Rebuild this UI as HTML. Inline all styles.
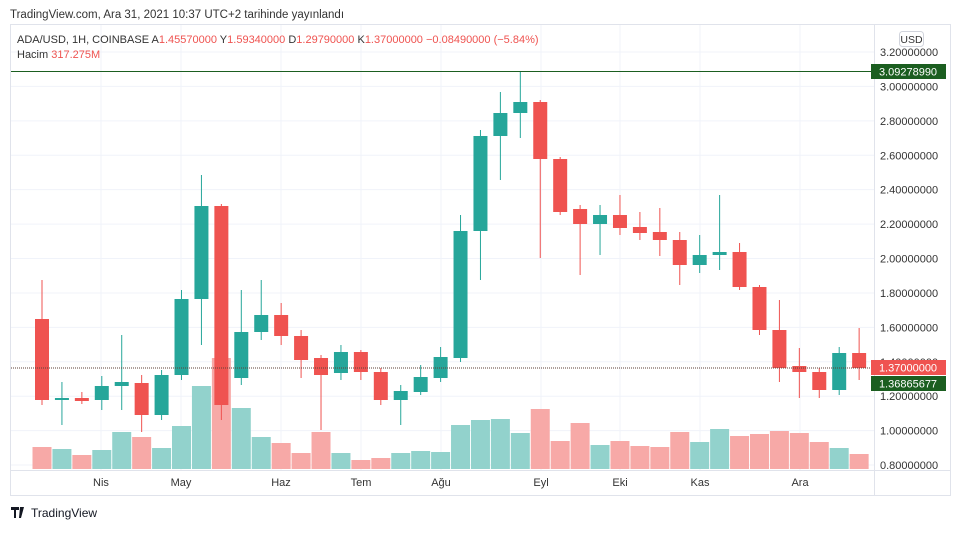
<!DOCTYPE html>
<html><head><meta charset="utf-8"><style>
body{margin:0;background:#fff;width:960px;height:529px;overflow:hidden;font-family:"Liberation Sans",sans-serif}
</style></head><body>
<svg id="s" width="960" height="529" xmlns="http://www.w3.org/2000/svg" font-family="Liberation Sans, sans-serif">
<text x="10" y="18" font-size="11.5" fill="#333">TradingView.com, Ara 31, 2021 10:37 UTC+2 tarihinde yayınlandı</text>
<rect x="10.5" y="24.5" width="940" height="471" fill="#fff" stroke="#e0e3eb"/>
<g id="g"></g>
</svg>
<script>
var g=document.getElementById('g'),h='';
function Y(p){return 52+(3.2-p)*172.1;}
// grid
for(var p=0.8;p<=3.21;p+=0.2){var y=Y(p);h+='<line x1="11" x2="874" y1="'+y+'" y2="'+y+'" stroke="#f0f3fa"/>';
h+='<text x="880" y="'+(y+4)+'" font-size="11" fill="#333">'+p.toFixed(8)+'</text>';}
var mx=[101,181,281,361,441,541,620,700,800],ml=['Nis','May','Haz','Tem','Ağu','Eyl','Eki','Kas','Ara'];
for(var i=0;i<mx.length;i++){h+='<line x1="'+mx[i]+'" x2="'+mx[i]+'" y1="25" y2="470" stroke="#f0f3fa"/>';
h+='<text x="'+mx[i]+'" y="486" font-size="11" fill="#333" text-anchor="middle">'+ml[i]+'</text>';}
h+='<line x1="874.5" x2="874.5" y1="25" y2="495" stroke="#e0e3eb"/><line x1="11" x2="950" y1="470.5" y2="470.5" stroke="#e0e3eb"/>';
var c=[[1,319,400,280,405],[0,398,400,382,425],[1,398,401,392,404],[0,386,400,376,410],[0,382,386,335,410],[1,383,415,375,432],[0,375,415,370,420],[0,299,375,290,380],[0,206,299,175,345],[1,206,405,204,420],[0,332,378,290,385],[0,315,332,280,340],[1,315,336,303,345],[1,336,360,330,378],[1,358,375,355,430],[0,352,373,345,380],[1,352,372,350,380],[1,372,400,368,405],[0,391,400,385,425],[0,377,392,365,395],[0,357,378,347,382],[0,231,358,215,362],[0,136,231,130,280],[0,113,136,92,180],[0,102,113,72,138],[1,102,159,100,258],[1,159,212,157,215],[1,209,224,205,275],[0,215,224,205,255],[1,215,228,195,235],[1,227,233,212,240],[1,232,240,208,256],[1,240,265,232,285],[0,255,265,235,273],[0,252,255,195,270],[1,252,287,243,290],[1,287,330,285,335],[1,330,368,300,382],[1,366,372,348,398],[1,372,390,368,398],[0,353,390,347,395],[1,353,368,328,380]];
var v=[447,449,455,450,432,437,448,426,386,358,408,437,443,453,432,453,460,458,453,451,452,425,420,419,433,409,441,423,445,441,446,447,432,442,429,436,434,431,433,442,448,454];
for(var i=0;i<c.length;i++){var x=42+i*19.93,col=c[i][0]?'#ef5350':'#26a69a',vc=c[i][0]?'#f7a9a7':'#92d2cc';
h+='<rect x="'+(x-9.5)+'" y="'+v[i]+'" width="19" height="'+(469-v[i])+'" fill="'+vc+'"/>';}
for(var i=0;i<c.length;i++){var x=42+i*19.93,col=c[i][0]?'#ef5350':'#26a69a';
h+='<line x1="'+x+'" x2="'+x+'" y1="'+c[i][3]+'" y2="'+c[i][4]+'" stroke="'+col+'"/>';
h+='<rect x="'+(x-7)+'" y="'+c[i][1]+'" width="14" height="'+Math.max(2,c[i][2]-c[i][1])+'" fill="'+col+'"/>';}
h+='<line x1="11" x2="874" y1="71.5" y2="71.5" stroke="#1b5e20"/>';
h+='<line x1="11" x2="874" y1="368" y2="368" stroke="#5d4037" stroke-dasharray="1,1"/>';
h+='<rect x="871" y="64" width="75" height="15" fill="#1b5e20"/><text x="908" y="75.5" font-size="11" fill="#fff" text-anchor="middle">3.09278990</text>';
h+='<rect x="871" y="360" width="75" height="15" fill="#ef5350"/><text x="908" y="371.5" font-size="11" fill="#fff" text-anchor="middle">1.37000000</text>';
h+='<rect x="871" y="376" width="75" height="15" fill="#1b5e20"/><text x="908" y="387.5" font-size="11" fill="#fff" text-anchor="middle">1.36865677</text>';
h+='<rect x="899.5" y="31.5" width="24" height="15" rx="3" fill="#fff" stroke="#d1d4dc"/><text x="911.5" y="43" font-size="10.5" fill="#333" text-anchor="middle">USD</text>';
h+='<text x="17" y="43" font-size="11" fill="#333">ADA/USD, 1H, COINBASE  A<tspan fill="#ef5350">1.45570000</tspan>  Y<tspan fill="#ef5350">1.59340000</tspan>  D<tspan fill="#ef5350">1.29790000</tspan>  K<tspan fill="#ef5350">1.37000000</tspan>  <tspan fill="#ef5350">−0.08490000 (−5.84%)</tspan></text>';
h+='<text x="17" y="58" font-size="11" fill="#333">Hacim  <tspan fill="#ef5350">317.275M</tspan></text>';
h+='<path d="M11 507h8v3h-3v8h-2v-8h-3zM20 507h4l-3 11h-2z" fill="#131722"/><text x="31" y="517" font-size="12" fill="#131722">TradingView</text>';
g.innerHTML=h;
</script>
</body></html>
